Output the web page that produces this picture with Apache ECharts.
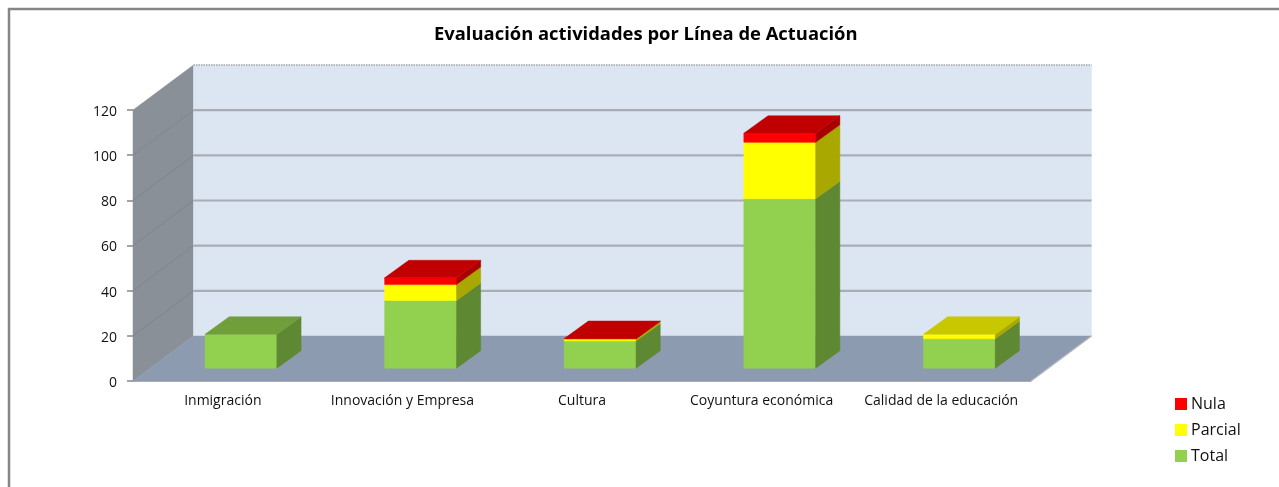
<!DOCTYPE html>
<html><head><meta charset="utf-8">
<style>html,body{margin:0;padding:0;background:#fff;overflow:hidden}#c{width:1279px;height:487px}</style>
<script src="https://cdn.jsdelivr.net/npm/echarts@6/dist/echarts.min.js"></script>
</head><body><div id="c"></div>
<script>
const categories = ['Inmigración','Innovación y Empresa','Cultura','Coyuntura económica','Calidad de la educación'];
const total   = [15, 30, 12, 75, 13];
const parcial = [0, 7, 1, 25, 2];
const nula    = [0, 3, 0.1, 4, 0];
const yTicks  = [0, 20, 40, 60, 80, 100, 120];

const FONT = 'Open Sans';
const DX = 60.5, DY = 45;          // oblique depth of the 3D box
const stackDefs = [
  {name:'Total',   vals:total,   front:'#92d050', side:'#5f8833', top:'#6f9e3b'},
  {name:'Parcial', vals:parcial, front:'#ffff00', side:'#a8a800', top:'#c8c800'},
  {name:'Nula',    vals:nula,    front:'#ff0000', side:'#a80000', top:'#c00000'}
];
const poly = (points, fill, z2) => ({type:'polygon', shape:{points}, style:{fill, stroke:fill, lineWidth:0.5}, z2:z2||0});
const line = (a, b, stroke, lineWidth, dash) => ({type:'line', shape:{x1:a[0],y1:a[1],x2:b[0],y2:b[1]}, style:{stroke, lineWidth, lineDash:dash||null}});

function renderWalls(params, api){
  const cs = params.coordSys;
  const L = cs.x, R = cs.x + cs.width, B = cs.y + cs.height, T = cs.y;
  const kids = [
    poly([[L,T],[L+DX,T-DY],[L+DX,B-DY],[L,B]], '#8a9097'),
    poly([[L+DX,T-DY],[R+DX,T-DY],[R+DX,B-DY],[L+DX,B-DY]], '#dce6f2'),
    poly([[L,B],[L+DX,B-DY],[R+DX,B-DY],[R,B]], '#8c9bb0'),
    line([L+DX,T-DY],[R+DX,T-DY],'#a6a6a6',1.5,[1.5,1]),
    line([R,B],[R+DX,B-DY],'#b4b8be',1.2)
  ];
  yTicks.forEach(v => {
    const y = api.coord([0, v])[1];
    if (v > 0 && v < 120) kids.push(line([L,y],[L+DX,y-DY],'#82858b',1));
    if (v > 0 && v < 120) kids.push(line([L+DX,y-DY],[R+DX,y-DY],'#a9adb6',2.2));
  });
  return {type:'group', children:kids};
}

function makeBarRender(def){
  return function(params, api){
    const i = api.value(0), lo = api.coord([i, api.value(1)]), hi = api.coord([i, api.value(2)]);
    const w = api.size([1,0])[0] * 0.4;
    const fx = 0.3*DX, fy = 0.285*DY, bx = 0.4*DX, by = 0.39*DY;
    const x0 = lo[0]-w/2+fx, x1 = x0+w, y0 = lo[1]-fy, y1 = hi[1]-fy;
    const kids = [];
    if (api.value(2) > api.value(1)) {
      kids.push(poly([[x0,y0],[x1,y0],[x1,y1],[x0,y1]], def.front));
      kids.push(poly([[x1,y0],[x1+bx,y0-by],[x1+bx,y1-by],[x1,y1]], def.side));
    }
    if (api.value(3)) kids.push(poly([[x0,y1],[x1,y1],[x1+bx,y1-by],[x0+bx,y1-by]], def.top));
    return {type:'group', children:kids};
  };
}

const barSeries = stackDefs.map((def, s) => ({
  type:'custom', name:def.name, coordinateSystem:'cartesian2d', silent:true, z:3+s,
  itemStyle:{color:def.front}, encode:{x:0,y:[1,2]},
  renderItem:makeBarRender(def),
  data:categories.map((c,i) => {
    const start = stackDefs.slice(0,s).reduce((a,d)=>a+d.vals[i],0);
    const isTop = def.vals[i] > 0 && stackDefs.slice(s+1).every(d=>!d.vals[i]);
    return [i, start, start+def.vals[i], isTop?1:0];
  })
}));

const chart = echarts.init(document.getElementById('c'), null, {renderer:'canvas'});
chart.setOption({
  animation:false,
  backgroundColor:'#fff',
  textStyle:{fontFamily:FONT},
  title:{text:'Evaluación actividades por Línea de Actuación', left:429, top:21,
    textStyle:{fontFamily:FONT, fontSize:18.4, fontWeight:'bold', color:'#000'}},
  graphic:[{type:'rect', shape:{x:9,y:9,width:1400,height:600}, style:{fill:'none',stroke:'#868686',lineWidth:2.5}, silent:true}],
  grid:{left:133, top:110, width:898, height:271, containLabel:false},
  xAxis:{type:'category', data:categories, axisLine:{lineStyle:{color:'#b0b3b8',width:1}},
    axisTick:{alignWithLabel:false, length:6, lineStyle:{color:'#868686',width:1.5}},
    axisLabel:{color:'#111', fontSize:14, margin:13, fontFamily:FONT, interval:0}},
  yAxis:{type:'value', min:0, max:120, interval:20, splitLine:{show:false},
    axisLine:{show:true, lineStyle:{color:'#868686',width:1}},
    axisTick:{show:true, length:6, lineStyle:{color:'#868686',width:1.5}},
    axisLabel:{color:'#111', fontSize:14, margin:16, fontFamily:FONT, formatter:'{a|{value}}',
      rich:{a:{color:'#111', fontSize:14, fontFamily:FONT, padding:[4,0,0,0]}}}},
  legend:{orient:'vertical', left:1170, top:391, itemWidth:12, itemHeight:12, itemGap:10,
    data:['Nula','Parcial','Total'], icon:'rect', selectedMode:false,
    textStyle:{color:'#111', fontSize:16, fontFamily:FONT, padding:[0,0,0,-1]}},
  series:[{type:'custom', name:'walls', coordinateSystem:'cartesian2d', silent:true, z:1,
      renderItem:renderWalls, encode:{x:0,y:1}, data:[[0,0]]}].concat(barSeries)
});
</script></body></html>
